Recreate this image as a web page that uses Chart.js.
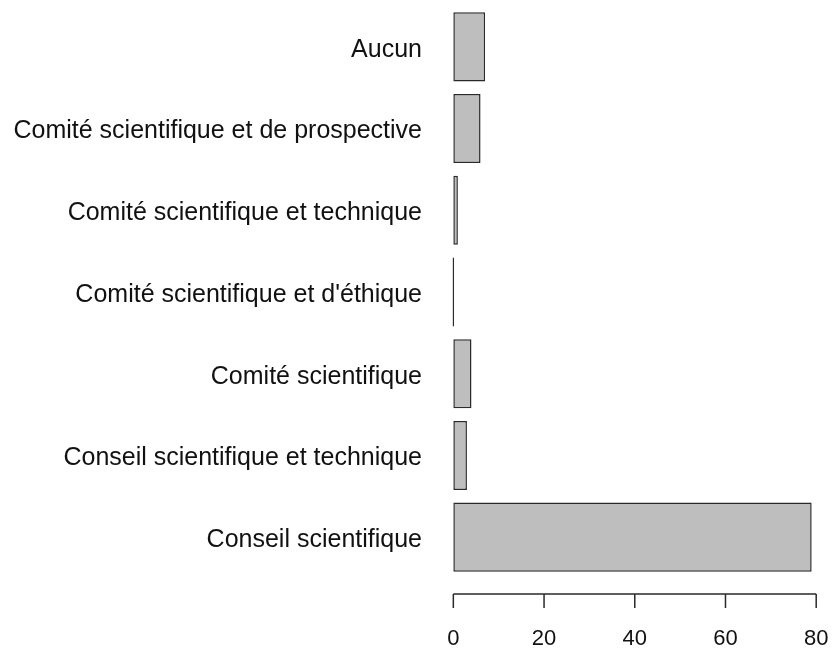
<!DOCTYPE html>
<html>
<head>
<meta charset="utf-8">
<script src="https://cdn.jsdelivr.net/npm/chart.js@4"></script>
<style>
  html, body { margin: 0; padding: 0; background: #fff; }
  #wrap { width: 832px; height: 653px; }
</style>
</head>
<body>
<div id="wrap"><canvas id="chart" width="832" height="653"></canvas></div>
<script>
const categories = [
    'Aucun',
    'Comité scientifique et de prospective',
    'Comité scientifique et technique',
    "Comité scientifique et d'éthique",
    'Comité scientifique',
    'Conseil scientifique et technique',
    'Conseil scientifique'
];
const counts = [7, 6, 1, 0, 4, 3, 79];
const xTicks = [0, 20, 40, 60, 80];

// axe façon R : décalé sous la zone du graphique, de 0 à 80 seulement
const rAxis = {
    id: 'rAxis',
    afterDraw(chart) {
        const ctx = chart.ctx;
        const x = chart.scales.x;
        const y0 = chart.chartArea.bottom + 16;
        ctx.save();
        ctx.strokeStyle = '#2a2a2a';
        ctx.lineWidth = 1.5;
        ctx.beginPath();
        ctx.moveTo(x.getPixelForValue(xTicks[0]), y0);
        ctx.lineTo(x.getPixelForValue(xTicks[xTicks.length - 1]), y0);
        xTicks.forEach(v => {
            const px = x.getPixelForValue(v);
            ctx.moveTo(px, y0);
            ctx.lineTo(px, y0 + 14);
        });
        ctx.stroke();
        ctx.restore();
    }
};

const maxVal = Math.max(...counts);

function noPadding(scale) {
    scale.paddingLeft = 0;
    scale.paddingRight = 0;
    scale.paddingTop = 0;
    scale.paddingBottom = 0;
}

new Chart(document.getElementById('chart'), {
    type: 'bar',
    data: {
        labels: categories,
        datasets: [{
            data: counts,
            backgroundColor: '#bebebe',
            borderColor: '#2a2a2a',
            borderWidth: 1.5,
            borderSkipped: false,
            minBarLength: 1.5,
            barPercentage: 0.845,
            categoryPercentage: 1
        }]
    },
    options: {
        indexAxis: 'y',
        responsive: false,
        animation: false,
        layout: { padding: { top: 6, left: 0, right: 6, bottom: 0 } },
        plugins: {
            legend: { display: false },
            tooltip: { enabled: false }
        },
        scales: {
            x: {
                min: -maxVal * 0.04,
                max: maxVal * 1.04,
                afterBuildTicks: scale => {
                    scale.ticks = xTicks.map(v => ({ value: v }));
                },
                afterFit: scale => { scale.height = 75; noPadding(scale); },
                grid: { display: false, drawTicks: false },
                border: { display: false },
                ticks: {
                    padding: 48,
                    maxRotation: 0,
                    autoSkip: false,
                    color: '#111',
                    font: { family: 'Liberation Sans, Arial, sans-serif', size: 22 }
                }
            },
            y: {
                afterFit: scale => { scale.width = 439; noPadding(scale); },
                grid: { display: false, drawTicks: false },
                border: { display: false },
                ticks: {
                    padding: 17,
                    labelOffset: 3,
                    color: '#111',
                    font: { family: 'Liberation Sans, Arial, sans-serif', size: 25 }
                }
            }
        }
    },
    plugins: [rAxis]
});
</script>
</body>
</html>
